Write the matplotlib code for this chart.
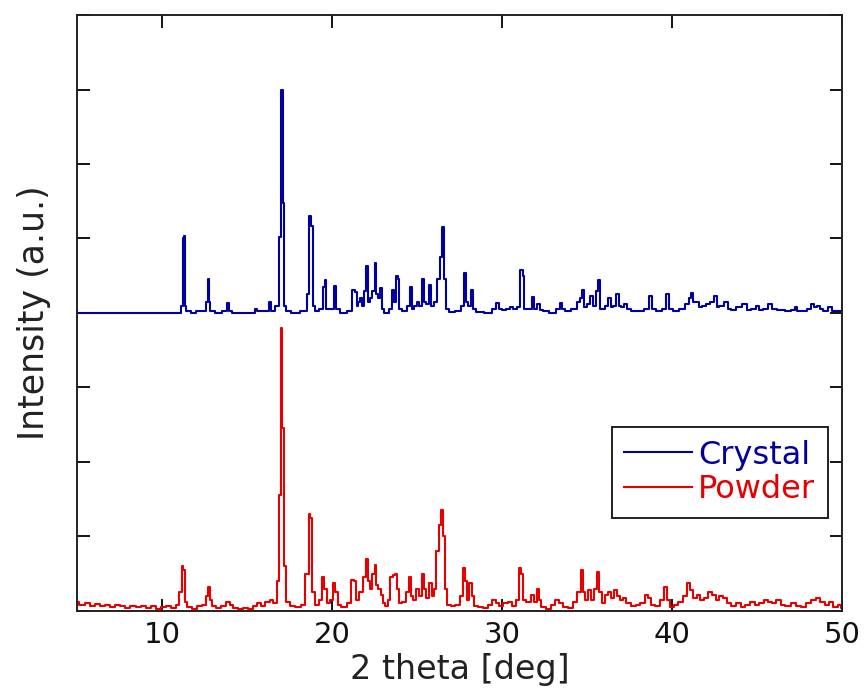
import matplotlib
matplotlib.use("Agg")
import matplotlib.pyplot as plt

# ---------------- data ----------------
# Crystal: intensity above its own baseline (a.u.); drawn shifted up by CRYSTAL_OFFSET
crystal_x = [5.00, 11.10, 11.18, 11.25, 11.30, 11.36, 11.50, 11.90, 12.10, 12.55, 12.65, 12.74, 12.80, 12.90,
             13.30, 13.80, 13.90, 13.98, 14.20, 15.40, 15.55, 15.65, 16.15, 16.38, 16.45, 16.85, 16.95, 17.08,
             17.16, 17.24, 17.40, 17.80, 18.40, 18.62, 18.72, 18.82, 18.90, 19.10, 19.40, 19.55, 19.62, 19.70,
             20.05, 20.22, 20.30, 20.60, 21.10, 21.30, 21.40, 21.50, 21.60, 21.70, 21.82, 21.95, 22.05, 22.12,
             22.30, 22.45, 22.55, 22.62, 22.75, 22.88, 22.96, 23.20, 23.45, 23.60, 23.70, 23.80, 23.90, 23.98,
             24.30, 24.50, 24.65, 24.72, 24.90, 25.05, 25.20, 25.38, 25.45, 25.55, 25.80, 25.88, 26.05, 26.25,
             26.42, 26.55, 26.65, 26.78, 27.00, 27.50, 27.65, 27.85, 27.93, 28.10, 28.25, 28.33, 28.60, 29.30,
             29.55, 29.75, 29.85, 30.10, 30.35, 30.55, 30.75, 31.00, 31.15, 31.25, 31.35, 31.60, 31.85, 31.95,
             32.15, 32.25, 32.50, 33.00, 33.30, 33.45, 33.55, 33.80, 34.30, 34.50, 34.65, 34.78, 34.88, 35.05,
             35.25, 35.40, 35.60, 35.70, 35.78, 35.95, 36.15, 36.35, 36.45, 36.60, 36.80, 36.90, 37.05, 37.25,
             37.40, 37.80, 38.20, 38.50, 38.75, 38.85, 39.20, 39.55, 39.75, 39.85, 40.20, 40.60, 40.90, 41.05,
             41.15, 41.30, 41.50, 41.65, 41.90, 42.10, 42.35, 42.55, 42.65, 42.90, 43.20, 43.35, 43.60, 43.90,
             44.35, 44.45, 44.80, 45.05, 45.15, 45.50, 45.80, 45.95, 46.40, 46.80, 47.10, 47.30, 47.40, 47.80,
             48.05, 48.25, 48.40, 48.60, 48.75, 49.00, 49.30, 49.45, 50.00]
crystal_y = [0.00, 0.00, 0.10, 1.00, 1.03, 0.10, 0.02, 0.00, 0.02, 0.02, 0.15, 0.46, 0.15, 0.02,
             0.00, 0.02, 0.13, 0.02, 0.00, 0.00, 0.06, 0.02, 0.03, 0.15, 0.03, 0.10, 1.02, 3.00,
             1.47, 0.10, 0.03, 0.00, 0.02, 0.25, 1.30, 1.17, 0.10, 0.02, 0.05, 0.35, 0.44, 0.05,
             0.05, 0.36, 0.05, 0.00, 0.02, 0.31, 0.28, 0.10, 0.15, 0.20, 0.10, 0.30, 0.63, 0.15,
             0.20, 0.30, 0.67, 0.25, 0.20, 0.33, 0.05, 0.00, 0.05, 0.31, 0.15, 0.50, 0.45, 0.05,
             0.02, 0.10, 0.35, 0.05, 0.10, 0.15, 0.10, 0.46, 0.15, 0.12, 0.37, 0.10, 0.15, 0.45,
             0.75, 1.15, 0.45, 0.05, 0.01, 0.02, 0.10, 0.54, 0.15, 0.10, 0.31, 0.05, 0.01, 0.00,
             0.05, 0.14, 0.05, 0.04, 0.06, 0.08, 0.06, 0.08, 0.58, 0.50, 0.05, 0.06, 0.22, 0.05,
             0.12, 0.04, 0.02, 0.00, 0.05, 0.13, 0.05, 0.02, 0.05, 0.15, 0.20, 0.31, 0.08, 0.12,
             0.23, 0.10, 0.30, 0.44, 0.05, 0.05, 0.10, 0.20, 0.08, 0.10, 0.25, 0.10, 0.08, 0.12,
             0.05, 0.03, 0.02, 0.05, 0.23, 0.05, 0.03, 0.06, 0.25, 0.05, 0.03, 0.05, 0.12, 0.20,
             0.27, 0.15, 0.15, 0.08, 0.10, 0.12, 0.15, 0.23, 0.08, 0.10, 0.15, 0.05, 0.04, 0.08,
             0.12, 0.04, 0.05, 0.10, 0.04, 0.05, 0.12, 0.05, 0.04, 0.02, 0.04, 0.08, 0.02, 0.02,
             0.06, 0.12, 0.08, 0.10, 0.05, 0.03, 0.08, 0.03, 0.02]
CRYSTAL_OFFSET = 4.0

# Powder: intensity (a.u.)
powder_x = [5.00, 5.30, 5.60, 5.90, 6.20, 6.50, 6.80, 7.10, 7.40, 7.70, 8.00, 8.30, 8.60, 8.90, 9.20, 9.50,
            9.80, 10.10, 10.40, 10.70, 10.95, 11.10, 11.22, 11.30, 11.40, 11.60, 11.90, 12.20, 12.50, 12.65,
            12.75, 12.85, 13.00, 13.30, 13.60, 13.90, 14.05, 14.30, 14.60, 14.90, 15.20, 15.50, 15.70, 15.90,
            16.20, 16.45, 16.65, 16.85, 16.95, 17.05, 17.12, 17.22, 17.40, 17.70, 18.00, 18.30, 18.55, 18.68,
            18.78, 18.90, 19.10, 19.35, 19.50, 19.60, 19.75, 20.00, 20.15, 20.25, 20.40, 20.70, 21.00, 21.20,
            21.35, 21.50, 21.70, 21.90, 22.05, 22.15, 22.30, 22.45, 22.55, 22.65, 22.80, 22.90, 23.05, 23.20,
            23.35, 23.50, 23.65, 23.75, 23.85, 24.00, 24.20, 24.45, 24.60, 24.70, 24.85, 25.05, 25.20, 25.35,
            25.45, 25.60, 25.80, 25.90, 26.05, 26.20, 26.35, 26.50, 26.60, 26.70, 26.85, 27.10, 27.40, 27.60,
            27.78, 27.88, 28.00, 28.15, 28.25, 28.40, 28.70, 29.00, 29.30, 29.55, 29.70, 29.90, 30.20, 30.45,
            30.70, 30.90, 31.08, 31.18, 31.30, 31.55, 31.80, 31.95, 32.10, 32.20, 32.40, 32.70, 33.00, 33.25,
            33.45, 33.70, 34.00, 34.30, 34.55, 34.72, 34.82, 34.95, 35.15, 35.30, 35.50, 35.62, 35.75, 35.95,
            36.15, 36.30, 36.45, 36.65, 36.80, 37.00, 37.20, 37.40, 37.70, 38.00, 38.25, 38.50, 38.65, 38.85,
            39.10, 39.40, 39.62, 39.75, 39.95, 40.20, 40.50, 40.75, 40.95, 41.10, 41.30, 41.55, 41.75, 42.00,
            42.25, 42.45, 42.65, 42.90, 43.10, 43.35, 43.60, 43.90, 44.15, 44.40, 44.70, 45.00, 45.25, 45.50,
            45.75, 46.00, 46.25, 46.50, 46.80, 47.10, 47.40, 47.70, 48.00, 48.30, 48.55, 48.80, 49.10, 49.35,
            49.60, 49.85, 50.00]
powder_y = [0.12, 0.08, 0.10, 0.07, 0.09, 0.06, 0.08, 0.05, 0.08, 0.06, 0.04, 0.07, 0.05, 0.07, 0.04, 0.06,
            0.03, 0.05, 0.07, 0.04, 0.08, 0.25, 0.60, 0.55, 0.12, 0.05, 0.03, 0.06, 0.08, 0.20,
            0.32, 0.15, 0.07, 0.04, 0.06, 0.12, 0.08, 0.04, 0.02, 0.04, 0.03, 0.06, 0.10, 0.06,
            0.12, 0.14, 0.10, 0.40, 1.55, 3.80, 2.45, 0.60, 0.12, 0.07, 0.05, 0.08, 0.50, 1.30,
            1.25, 0.25, 0.08, 0.15, 0.45, 0.30, 0.10, 0.15, 0.38, 0.25, 0.08, 0.05, 0.10, 0.42,
            0.40, 0.15, 0.25, 0.45, 0.70, 0.40, 0.30, 0.50, 0.62, 0.35, 0.30, 0.22, 0.10, 0.06,
            0.15, 0.45, 0.48, 0.50, 0.30, 0.10, 0.12, 0.25, 0.45, 0.20, 0.15, 0.30, 0.20, 0.50,
            0.30, 0.18, 0.38, 0.20, 0.30, 0.80, 1.15, 1.35, 1.00, 0.30, 0.08, 0.06, 0.08, 0.20,
            0.58, 0.40, 0.15, 0.38, 0.20, 0.06, 0.05, 0.04, 0.08, 0.15, 0.10, 0.06, 0.10, 0.12,
            0.07, 0.15, 0.58, 0.50, 0.15, 0.12, 0.22, 0.12, 0.30, 0.15, 0.05, 0.03, 0.08, 0.15,
            0.10, 0.05, 0.04, 0.12, 0.25, 0.55, 0.25, 0.15, 0.28, 0.15, 0.30, 0.52, 0.25, 0.10,
            0.22, 0.25, 0.18, 0.28, 0.20, 0.15, 0.18, 0.10, 0.06, 0.08, 0.10, 0.22, 0.18, 0.08,
            0.06, 0.15, 0.32, 0.15, 0.05, 0.08, 0.12, 0.20, 0.38, 0.28, 0.18, 0.22, 0.15, 0.18,
            0.25, 0.22, 0.15, 0.20, 0.18, 0.10, 0.06, 0.10, 0.05, 0.08, 0.12, 0.08, 0.10, 0.14,
            0.12, 0.10, 0.14, 0.08, 0.07, 0.10, 0.06, 0.05, 0.10, 0.15, 0.18, 0.12, 0.08, 0.12,
            0.05, 0.08, 0.04]

series_labels = ["Crystal", "Powder"]
x_ticks = [10, 20, 30, 40, 50]
x_label = "2 theta [deg]"
y_label = "Intensity (a.u.)"

# ---------------- style ----------------
BLUE = "#0000a0"
RED = "#e80000"
plt.rcParams["font.family"] = ["DejaVu Sans"]

fig = plt.figure(figsize=(8.64, 6.99), dpi=100)
ax = fig.add_axes([0.089, 0.126, 0.886, 0.8525])

ax.plot(crystal_x, [v + CRYSTAL_OFFSET for v in crystal_y], color=BLUE, lw=1.5,
        drawstyle="steps-mid", label=series_labels[0])
ax.plot(powder_x, powder_y, color=RED, lw=1.5, drawstyle="steps-mid", label=series_labels[1])

ax.set_xlim(5, 50)
ax.set_ylim(0, 8)
ax.set_xticks(x_ticks)
ax.set_yticks(range(0, 9))
ax.set_yticklabels([])
ax.tick_params(direction="in", length=9, width=1.3, top=True, right=True,
               labelsize=21, pad=7, colors="black")
ax.tick_params(axis="x", labelcolor="#111111")
for s in ax.spines.values():
    s.set_linewidth(1.4)
    s.set_color("#222222")

ax.set_xlabel(x_label, fontsize=24, color="#222222", labelpad=3)
ax.set_ylabel(y_label, fontsize=25, color="#222222", labelpad=12)

leg = ax.legend(loc="upper right", bbox_to_anchor=(0.981, 0.309), fontsize=23,
                handlelength=2.1, handletextpad=0.2, labelspacing=0.1,
                borderpad=0.4, borderaxespad=0, fancybox=False, framealpha=1,
                edgecolor="#222222")
leg.get_frame().set_linewidth(1.4)
for txt, col in zip(leg.get_texts(), [BLUE, RED]):
    txt.set_color(col)

fig.savefig("out.png", dpi=100)
